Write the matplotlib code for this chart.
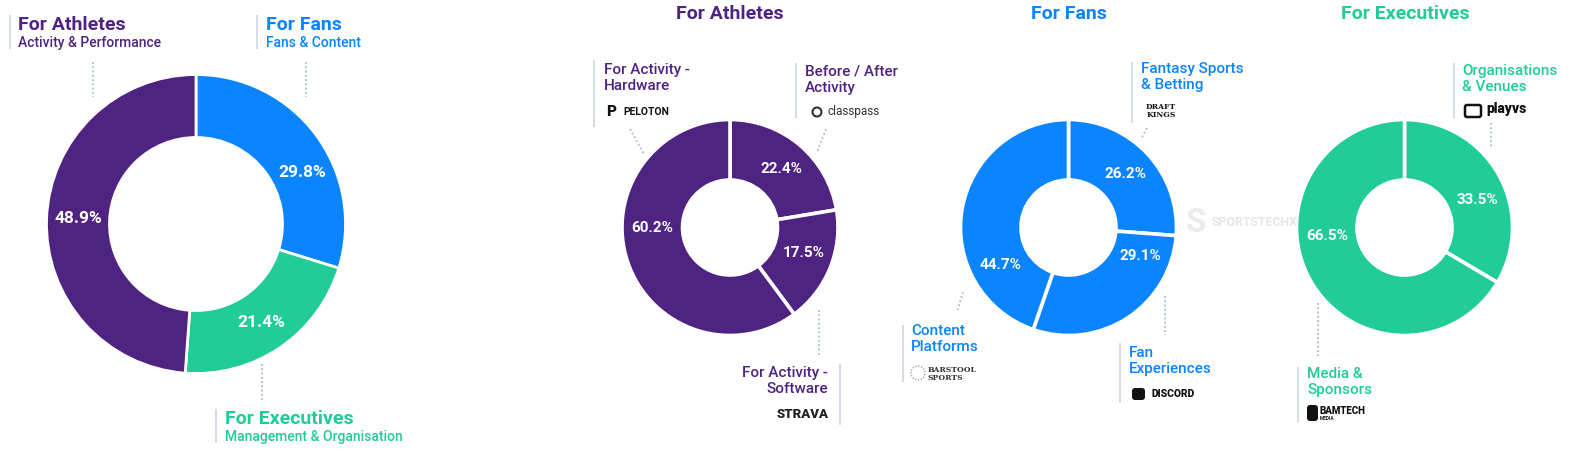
import numpy as np
import matplotlib.pyplot as plt
from matplotlib.patches import FancyBboxPatch, Circle

plt.rcParams['font.family'] = ['Roboto', 'DejaVu Sans']

W, H = 1572, 451

# --- Datos ---

# Resumen general (sentido horario desde arriba)
overview_titles = ['For Fans', 'For Executives', 'For Athletes']
overview_subs = ['Fans & Content', 'Management & Organisation', 'Activity & Performance']
overview_values = [29.8, 21.4, 48.9]

# Detalle por grupo
athletes_labels = ['Before / After\nActivity', 'For Activity -\nSoftware', 'For Activity -\nHardware']
athletes_values = [22.4, 17.5, 60.2]
athletes_logos = ['classpass', 'STRAVA', 'PELOTON']

fans_labels = ['Fantasy Sports\n& Betting', 'Fan\nExperiences', 'Content\nPlatforms']
fans_values = [26.2, 29.1, 44.7]
fans_logos = ['DRAFT\nKINGS', 'DISCORD', 'BARSTOOL\nSPORTS']

exec_labels = ['Organisations\n& Venues', 'Media &\nSponsors']
exec_values = [33.5, 66.5]
exec_logos = ['playvs', 'BAMTECH']

PURPLE = '#4f2382'
BLUE = '#0a84ff'
GREEN = '#21cc96'
LINE = '#c9d2de'
DOT = '#b3c2d6'

fig = plt.figure(figsize=(W / 100, H / 100), dpi=100)
ax = fig.add_axes([0, 0, 1, 1])


def Y(y):
    return H - y


def donut(values, colors, cx, cy, r, ri, angles, size, gap):
    ax.pie(values, colors=colors, center=(cx, Y(cy)), radius=r, startangle=90,
           counterclock=False, wedgeprops=dict(width=r - ri, edgecolor='white', linewidth=gap))
    d = (r + ri) / 2
    for v, a in zip(values, angles):
        t = np.deg2rad(a)
        ax.text(cx + d * np.cos(t), Y(cy) + d * np.sin(t), f'{v:.1f}%', color='white',
                fontsize=size, fontweight='bold', ha='center', va='center')


def vline(x, y0, y1):
    ax.plot([x, x], [Y(y0), Y(y1)], color=LINE, lw=1.1, solid_capstyle='butt')


def dotted(x0, y0, x1, y1):
    ax.plot([x0, x1], [Y(y0), Y(y1)], color=DOT, lw=1.4, ls=(0, (1, 1.2)))


def label(x, ytop, text, color, ha='left', size=11):
    ax.text(x, Y(ytop), text, color=color, fontsize=size, fontweight='medium',
            ha=ha, va='top', linespacing=1.22)


# marca de agua (detras de los donuts)
ax.text(1196, Y(223), 'S', color='#ececec', fontsize=24, fontweight='bold', ha='center', va='center')
ax.text(1212, Y(223), 'SPORTSTECHX', color='#e6e6e6', fontsize=8.8, fontweight='bold', ha='left', va='center')

# --- Donut general ---
donut(overview_values, [BLUE, GREEN, PURPLE], 196, 224, 149.5, 86.5, [26, -56.6, 177.5], 12.5, 2)

ov_pos = [(266, 30, 257), (225, 424, 216), (18, 30, 9.5)]
for (x, yb, lx), t, s, c in zip(ov_pos, overview_titles, overview_subs, [BLUE, GREEN, PURPLE]):
    ax.text(x, Y(yb), t, color=c, fontsize=14, fontweight='bold', ha='left', va='baseline')
    ax.text(x, Y(yb + 17), s, color=c, fontsize=10, fontweight='medium', ha='left', va='baseline')
    vline(lx, yb - 15, yb + 19)
dotted(93, 62, 93, 97)
dotted(306, 62, 306, 97)
dotted(262, 364, 262, 400)

# --- Titulos de los grupos ---
for x, t, c in zip([730, 1069, 1405], ['For Athletes', 'For Fans', 'For Executives'], [PURPLE, BLUE, GREEN]):
    ax.text(x, Y(19), t, color=c, fontsize=14, fontweight='bold', ha='center', va='baseline')

# --- Atletas ---
donut(athletes_values, [PURPLE] * 3, 730, 227.5, 108, 47.5, [48.4, -19, 180.4], 11, 2.6)
label(805, 65, athletes_labels[0], PURPLE)
label(828, 366, athletes_labels[1], PURPLE, ha='right')
label(604, 63, athletes_labels[2], PURPLE)
vline(796, 63, 118)
vline(840, 364, 425)
vline(594, 60, 127)
dotted(826, 129, 817, 152)
dotted(819, 310, 819, 357)
dotted(630, 129, 644, 154)
ax.add_patch(Circle((817, Y(112)), 4.5, fill=False, ec='#333333', lw=1.5))
ax.text(827, Y(112), athletes_logos[0], color='#333333', fontsize=8.5, ha='left', va='center')
ax.text(829, Y(415), athletes_logos[1], color='#222222', fontsize=9.5, fontweight='black', ha='right', va='center')
ax.text(611, Y(112), 'P', color='#111111', fontsize=11, fontweight='black', ha='center', va='center')
ax.text(623, Y(112), athletes_logos[2], color='#111111', fontsize=7.5, fontweight='bold', ha='left', va='center')

# --- Fans ---
donut(fans_values, [BLUE] * 3, 1068.5, 227.5, 108, 47.5, [43, -21.5, 208.8], 11, 2.6)
label(1141, 62, fans_labels[0], BLUE)
label(1129, 346, fans_labels[1], BLUE)
label(911, 324, fans_labels[2], BLUE)
vline(1132, 62, 123)
vline(1120, 343, 403)
vline(903, 325, 382)
dotted(1147, 128, 1141, 139)
dotted(1165, 296, 1165, 335)
dotted(963, 292, 957, 312)
ax.text(1161, Y(111), fans_logos[0], color='#111111', fontsize=5.5, fontweight='bold',
        family='DejaVu Serif', ha='center', va='center', linespacing=0.9)
ax.add_patch(FancyBboxPatch((1132, Y(400)), 13, 12, boxstyle='round,pad=0,rounding_size=3',
                            fc='#111111', ec='none'))
ax.text(1151, Y(394), fans_logos[1], color='#111111', fontsize=7.5, fontweight='black', ha='left', va='center')
ax.add_patch(Circle((918, Y(373)), 7, fill=False, ec='#777777', lw=0.8, ls=':'))
ax.text(928, Y(374), fans_logos[2], color='#333333', fontsize=5.5, fontweight='bold',
        family='DejaVu Serif', ha='left', va='center', linespacing=0.95)

# --- Ejecutivos ---
donut(exec_values, [GREEN] * 2, 1404.5, 227.5, 108, 47.5, [21, 186.5], 11, 2.6)
label(1462, 64, exec_labels[0], GREEN)
label(1307, 367, exec_labels[1], GREEN)
vline(1454, 63, 118)
vline(1298, 367, 422)
dotted(1491, 123, 1491, 147)
dotted(1318, 303, 1318, 357)
ax.add_patch(FancyBboxPatch((1465, Y(117)), 16, 12, boxstyle='round,pad=0,rounding_size=2',
                            fc='none', ec='#111111', lw=1.8))
ax.text(1486, Y(109), exec_logos[0], color='#111111', fontsize=10, fontweight='black', ha='left', va='center')
ax.add_patch(FancyBboxPatch((1307, Y(421)), 11, 16, boxstyle='round,pad=0,rounding_size=3',
                            fc='#111111', ec='none'))
ax.text(1320, Y(411), exec_logos[1], color='#111111', fontsize=7, fontweight='black', ha='left', va='center')
ax.text(1320, Y(418.5), 'MEDIA', color='#111111', fontsize=3.5, fontweight='bold', ha='left', va='center')

ax.set_xlim(0, W)
ax.set_ylim(0, H)
ax.set_aspect('auto')
ax.axis('off')

fig.savefig('out.png', dpi=100)
